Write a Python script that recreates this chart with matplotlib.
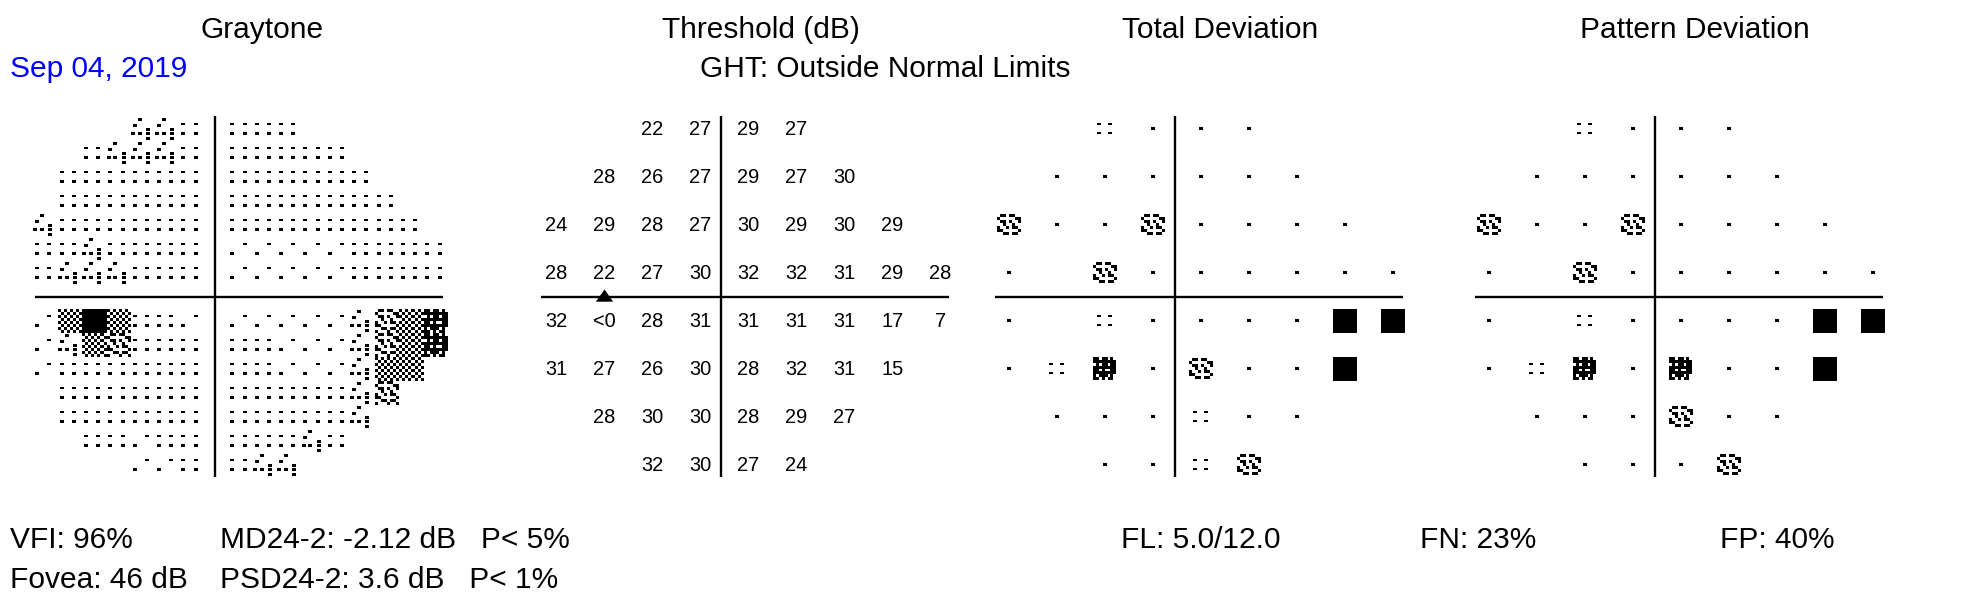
import matplotlib
matplotlib.use("Agg")
import matplotlib.pyplot as plt
from matplotlib.patches import Rectangle, Polygon
from matplotlib.collections import PatchCollection
from matplotlib.transforms import offset_copy

plt.rcParams['font.family'] = ['Liberation Sans', 'DejaVu Sans']

W, H, DPI = 1968, 600, 100

# ---------------- data ----------------
# 24-2 test grid (degrees)
x_deg = [-21, -15, -9, -3, 3, 9, 15, 21, 27]
y_deg = [21, 15, 9, 3, -3, -9, -15, -21]
N = None
threshold_db = [
    [N,  N,  22, 27, 29, 27, N,  N,  N],
    [N,  28, 26, 27, 29, 27, 30, N,  N],
    [24, 29, 28, 27, 30, 29, 30, 29, N],
    [28, 22, 27, 30, 32, 32, 31, 29, 28],
    [32, -1, 28, 31, 31, 31, 31, 17, 7],
    [31, 27, 26, 30, 28, 32, 31, 15, N],
    [N,  28, 30, 30, 28, 29, 27, N,  N],
    [N,  N,  32, 30, 27, 24, N,  N,  N],
]
# a negative value is printed as "<0"
blind_spot_x = -15

# probability symbols: 0 normal, 1 P<5%, 2 P<2%, 3 P<1%, 4 P<0.5%
td_prob = [
    [N, N, 1, 0, 0, 0, N, N, N],
    [N, 0, 0, 0, 0, 0, 0, N, N],
    [2, 0, 0, 2, 0, 0, 0, 0, N],
    [0, N, 2, 0, 0, 0, 0, 0, 0],
    [0, N, 1, 0, 0, 0, 0, 4, 4],
    [0, 1, 3, 0, 2, 0, 0, 4, N],
    [N, 0, 0, 0, 1, 0, 0, N, N],
    [N, N, 0, 0, 1, 2, N, N, N],
]
pd_prob = [
    [N, N, 1, 0, 0, 0, N, N, N],
    [N, 0, 0, 0, 0, 0, 0, N, N],
    [2, 0, 0, 2, 0, 0, 0, 0, N],
    [0, N, 2, 0, 0, 0, 0, 0, 0],
    [0, N, 1, 0, 0, 0, 0, 4, 4],
    [0, 1, 3, 0, 3, 0, 0, 4, N],
    [N, 0, 0, 0, 2, 0, 0, N, N],
    [N, N, 0, 0, 0, 2, N, N, N],
]

# graytone levels on a 3-degree grid (1 lightest ... 7 black, ' ' = none)
gray_x_deg = [-27, -24, -21, -18, -15, -12, -9, -6, -3,
              3, 6, 9, 12, 15, 18, 21, 24, 27]
gray_y_deg = [21, 18, 15, 12, 9, 6, 3, -3, -6, -9, -12, -15, -18, -21]
graytone_level = [
    "      332" "222      ",
    "    23332" "22222    ",
    "   222222" "222222   ",
    "   222222" "2222222  ",
    "  3222222" "22222222 ",
    "  2232222" "111112222",
    "  2333222" "111112222",
    "  1575221" "111113456",
    "  1354222" "221113456",
    "  1222222" "22111355 ",
    "   222222" "2222234  ",
    "   222222" "222223   ",
    "    22122" "22232    ",
    "      112" "233      ",
]

titles = ["Graytone", "Threshold (dB)", "Total Deviation", "Pattern Deviation"]
exam_date = "Sep 04, 2019"
ght_text = "GHT: Outside Normal Limits"
stats_col1 = ["VFI: 96%", "Fovea: 46 dB"]
stats_col2 = ["MD24-2: -2.12 dB   P< 5%", "PSD24-2: 3.6 dB   P< 1%"]
reliability = ["FL: 5.0/12.0", "FN: 23%", "FP: 40%"]

# ---------------- styles / patterns ----------------
PAT_S = [".##.##..",
         "#.....##",
         ".##.#..#",
         "..#..#..",
         "#..#.##.",
         "##.....#",
         "..##.##."]
PAT_S8 = PAT_S + ["#...#..#"]
PAT_DENSE = ["##.##.#.",
             "########",
             ".#.##.##",
             "########",
             "##.#..##",
             "########",
             "#.###.#.",
             "##.#.##."]
PAT_CHECK = ["#.#.#.#." if i % 2 == 0 else ".#.#.#.#" for i in range(8)]
PAT_BLACK = ["#"]

T1 = [(3.8, -4.7), (-8.5, 4.7)]
T2 = [(-8.5, -4.7), (3.8, -4.7), (-8.5, 4.7), (3.8, 4.7)]
T3 = [(-3.5, -9.3), (-8.5, -3.3), (4.8, 0.7), (-10.2, 5.0), (-3.5, 5.0),
      (4.8, 5.0), (4.8, 10.0)]

fig = plt.figure(figsize=(W / DPI, H / DPI), dpi=DPI)


def panel(cx, cy, sx, sy):
    lw, rw, hh = 240, 270, 200
    ax = fig.add_axes([(cx - lw) / W, 1 - (cy + hh) / H, (lw + rw) / W, 2 * hh / H])
    ax.set_xlim(-lw / sx, rw / sx)
    ax.set_ylim(-hh / sy, hh / sy)
    ax.axis('off')
    ax._px = (cx, cy, sx, sy)
    return ax


def px2d(ax, px, py):
    cx, cy, sx, sy = ax._px
    return (px - cx) / sx, (cy - py) / sy


def cross(ax, vx):
    x0, y0 = px2d(ax, vx, 116)
    _, y1 = px2d(ax, vx, 477)
    ax.plot([x0, x0], [y0, y1], color='black', lw=1.7, solid_capstyle='butt', clip_on=False)
    xa, yh = px2d(ax, vx - 180, 296.7)
    xb, _ = px2d(ax, vx + 228, 296.7)
    ax.plot([xa, xb], [yh, yh], color='black', lw=1.7, solid_capstyle='butt', clip_on=False)


def add_dash(rects, ax, xd, yd, ox, oy, w=4.0, h=2.7):
    cx, cy, sx, sy = ax._px
    rects.append(Rectangle((xd + (ox - w / 2) / sx, yd - (oy + h / 2) / sy), w / sx, h / sy))


def add_bitmap(rects, ax, xd, yd, pattern, wpx, hpx):
    cx, cy, sx, sy = ax._px
    nr, nc = len(pattern), len(pattern[0])
    cw, chh = wpx / nc, hpx / nr
    for i, row in enumerate(pattern):
        j = 0
        while j < nc:
            if row[j] == '#':
                k = j
                while k < nc and row[k] == '#':
                    k += 1
                ox = -wpx / 2 + j * cw
                oy = -hpx / 2 + i * chh
                rects.append(Rectangle((xd + ox / sx, yd - (oy + chh) / sy),
                                       (k - j) * cw / sx, chh / sy))
                j = k
            else:
                j += 1


def finish(ax, rects):
    pc = PatchCollection(rects, facecolor='black', edgecolor='none', linewidth=0,
                         antialiased=False, clip_on=False)
    ax.add_collection(pc)


# ---------------- Graytone ----------------
axG = panel(216.35, 296.7, 8.13, 8.0)
rects = []
for r, yd in enumerate(gray_y_deg):
    for c, xd in enumerate(gray_x_deg):
        lvl = graytone_level[r][c]
        if lvl == ' ':
            continue
        if lvl == '1':
            for ox, oy in T1:
                add_dash(rects, axG, xd, yd, ox, oy)
        elif lvl == '2':
            for ox, oy in T2:
                add_dash(rects, axG, xd, yd, ox, oy)
        elif lvl == '3':
            for ox, oy in T3:
                add_dash(rects, axG, xd, yd, ox, oy)
        elif lvl == '4':
            add_bitmap(rects, axG, xd, yd, PAT_S8, 24.4, 24)
        elif lvl == '5':
            add_bitmap(rects, axG, xd, yd, PAT_CHECK, 24.4, 24)
        elif lvl == '6':
            add_bitmap(rects, axG, xd, yd, PAT_DENSE, 24.4, 24)
        elif lvl == '7':
            add_bitmap(rects, axG, xd, yd, PAT_BLACK, 24.4, 24)
finish(axG, rects)
cross(axG, 215)

# ---------------- Threshold ----------------
axT = panel(724.5, 296.0, 8.0, 8.0)
tr = offset_copy(axT.transData, fig=fig, x=0, y=-7.15, units='dots')
for r, yd in enumerate(y_deg):
    for c, xd in enumerate(x_deg):
        v = threshold_db[r][c]
        if v is None:
            continue
        s = "<0" if v < 0 else str(v)
        axT.text(xd, yd, s, transform=tr, ha='center', va='baseline', fontsize=14.4)
cross(axT, 720.7)
bx, by = px2d(axT, 0, 296.7)
sxT = axT._px[2]
tri = Polygon([(blind_spot_x, by + 7.3 / 8.0), (blind_spot_x - 8.6 / sxT, by - 5.0 / 8.0),
               (blind_spot_x + 8.6 / sxT, by - 5.0 / 8.0)], closed=True,
              facecolor='black', edgecolor='none', clip_on=False)
axT.add_patch(tri)


# ---------------- Deviation plots ----------------
def prob_panel(cx, vx, probs):
    ax = panel(cx, 296.5, 8.0, 8.0)
    rects = []
    for r, yd in enumerate(y_deg):
        for c, xd in enumerate(x_deg):
            p = probs[r][c]
            if p is None:
                continue
            if p == 0:
                add_dash(rects, ax, xd, yd, 0, 0, 4.0, 3.0)
            elif p == 1:
                for ox in (-5.7, 5.7):
                    for oy in (-4.5, 4.5):
                        add_dash(rects, ax, xd, yd, ox, oy, 4.0, 2.8)
            elif p == 2:
                add_bitmap(rects, ax, xd, yd, PAT_S, 24, 21)
            elif p == 3:
                add_bitmap(rects, ax, xd, yd, PAT_DENSE, 23, 23)
            elif p == 4:
                add_bitmap(rects, ax, xd, yd, PAT_BLACK, 24, 24)
    finish(ax, rects)
    cross(ax, vx)
    return ax


axTD = prob_panel(1176.7, 1175, td_prob)
axPD = prob_panel(1656.7, 1655, pd_prob)

# ---------------- Texts ----------------
BIG = 21.5


def ftext(x, y, s, **kw):
    fig.text(x / W, 1 - y / H, s, va='baseline', fontsize=BIG, **kw)


for t, xc in zip(titles, [262.3, 761.0, 1220.6, 1695.0]):
    ftext(xc, 37.5, t, ha='center')
ftext(10, 77, exam_date, ha='left', color='#0000FF')
ftext(700, 77, ght_text, ha='left')
for s, yb in zip(stats_col1, [547.5, 587.6]):
    ftext(10, yb, s, ha='left')
for s, yb in zip(stats_col2, [547.5, 587.6]):
    ftext(219.6, yb, s, ha='left')
for s, xl in zip(reliability, [1121, 1419.5, 1719.5]):
    ftext(xl, 547.5, s, ha='left')

fig.savefig("out.png", dpi=DPI, facecolor='white')
